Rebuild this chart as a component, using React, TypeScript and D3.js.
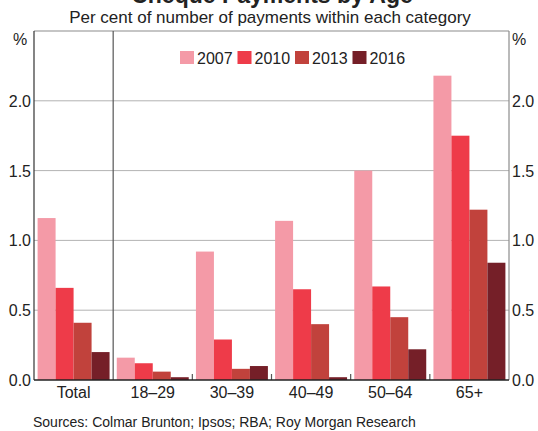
import React from "react";
import * as d3 from "d3";

const categories = ["Total", "18–29", "30–39", "40–49", "50–64", "65+"];
const years = ["2007", "2010", "2013", "2016"];
const values2007 = [1.16, 0.16, 0.92, 1.14, 1.5, 2.18];
const values2010 = [0.66, 0.12, 0.29, 0.65, 0.67, 1.75];
const values2013 = [0.41, 0.06, 0.08, 0.4, 0.45, 1.22];
const values2016 = [0.2, 0.02, 0.1, 0.02, 0.22, 0.84];
const yTicks = [0, 0.5, 1.0, 1.5, 2.0];
const colors = ["#F49AA7", "#EE3B49", "#C1423C", "#751F28"];

const series = [values2007, values2010, values2013, values2016];

export default function App() {
  const W = 538, H = 431;
  const left = 34, right = 509, top = 31, bottom = 380;
  const x = d3.scaleBand().domain(categories).range([left, right]).paddingInner(0).paddingOuter(0);
  const xi = d3.scaleBand().domain(years).range([0, x.bandwidth()]).paddingOuter(0.2).paddingInner(0);
  const y = d3.scaleLinear().domain([0, 2.5]).range([bottom, top]);
  const font = "'Liberation Sans', Arial, sans-serif";
  const txt = "#222";
  return (
    <svg width={W} height={H} style={{ position: "absolute", left: 0, top: 0 }} fontFamily={font}>
      <rect x={0} y={0} width={W} height={H} fill="#fff" />
      <text x={272} y={3} textAnchor="middle" fontSize={23} fontWeight="bold" fill={txt}>Cheque Payments by Age</text>
      <text x={270} y={23} textAnchor="middle" fontSize={17} fill={txt}>Per cent of number of payments within each category</text>
      {yTicks.filter(t => t > 0).map(t => (
        <line key={t} x1={left} x2={right} y1={y(t)} y2={y(t)} stroke="#b3b3b3" strokeWidth={1} />
      ))}
      {series.map((vals, si) =>
        categories.map((c, ci) => (
          <rect key={si + "-" + ci}
            x={(x(c) as number) + (xi(years[si]) as number)}
            y={y(vals[ci])}
            width={xi.bandwidth()}
            height={y(0) - y(vals[ci])}
            fill={colors[si]} />
        ))
      )}
      {/* frame */}
      <line x1={left} x2={right} y1={top} y2={top} stroke="#8c8c8c" strokeWidth={1.2} />
      <line x1={right} x2={right} y1={top} y2={bottom} stroke="#8c8c8c" strokeWidth={1.2} />
      <line x1={left} x2={left} y1={top} y2={bottom} stroke="#333" strokeWidth={1.2} />
      <line x1={x(categories[1]) as number} x2={x(categories[1]) as number} y1={top} y2={bottom} stroke="#555" strokeWidth={1.2} />
      {categories.slice(2).map(c => (
        <line key={c} x1={x(c) as number} x2={x(c) as number} y1={bottom - 6} y2={bottom} stroke="#555" strokeWidth={1.2} />
      ))}
      <line x1={left} x2={right} y1={bottom} y2={bottom} stroke="#222" strokeWidth={1.5} />
      {yTicks.map(t => (
        <g key={t}>
          <text x={left - 3} y={y(t) + 6} textAnchor="end" fontSize={16} fill={txt}>{t.toFixed(1)}</text>
          <text x={right + 3} y={y(t) + 6} textAnchor="start" fontSize={16} fill={txt}>{t.toFixed(1)}</text>
        </g>
      ))}
      <text x={20} y={45} textAnchor="middle" fontSize={16} fill={txt}>%</text>
      <text x={519} y={45} textAnchor="middle" fontSize={16} fill={txt}>%</text>
      {categories.map(c => (
        <text key={c} x={(x(c) as number) + x.bandwidth() / 2} y={398} textAnchor="middle" fontSize={16} fill={txt}>{c}</text>
      ))}
      {years.map((yr, i) => (
        <g key={yr} transform={`translate(${180 + i * 57.5},51)`}>
          <rect x={0} y={0} width={14} height={13} fill={colors[i]} />
          <text x={17} y={12.5} fontSize={16} fill={txt}>{yr}</text>
        </g>
      ))}
      <text x={33} y={427} fontSize={14} fill={txt}>Sources: Colmar Brunton; Ipsos; RBA; Roy Morgan Research</text>
    </svg>
  );
}
